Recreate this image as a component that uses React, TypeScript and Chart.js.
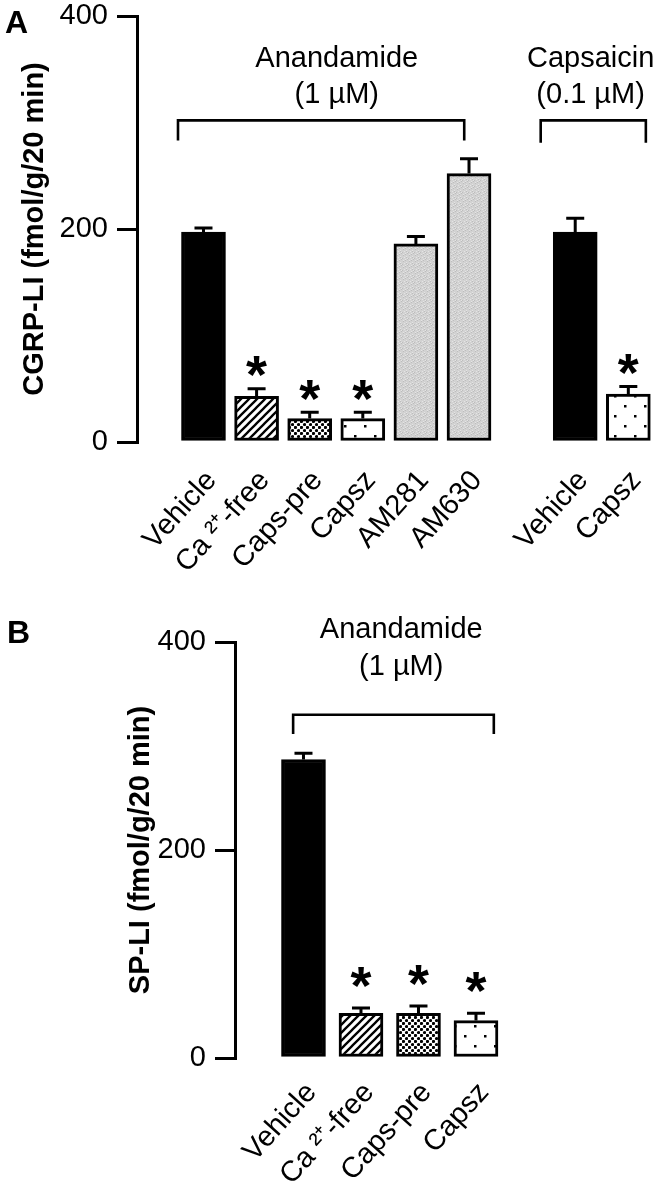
import React, { useEffect, useRef } from 'react';
import { Chart, registerables } from 'chart.js';

Chart.register(...registerables);

const FONT = "'Liberation Sans', Arial, Helvetica, sans-serif";

// ---------- Panel A data ----------
const labelsA = ['Vehicle', 'Ca ²⁺-free', 'Caps-pre', 'Capsz', 'AM281', 'AM630', 'Vehicle', 'Capsz'];
const slotsA = [0, 1, 2, 3, 4, 5, 7, 8];
const valuesA = [197, 43, 22, 22, 186, 252, 197, 45];
const errorsA = [4, 7, 6, 6, 7, 14, 13, 7];
const signifA = [false, true, true, true, false, false, false, true];
const fillsA = ['solid', 'hatch', 'dense', 'sparse', 'gray', 'gray', 'solid', 'sparse'];
const groupTextA = [['Anandamide', '(1 µM)'], ['Capsaicin', '(0.1 µM)']];
const yTitleA = 'CGRP-LI (fmol/g/20 min)';

// ---------- Panel B data ----------
const labelsB = ['Vehicle', 'Ca ²⁺-free', 'Caps-pre', 'Capsz'];
const slotsB = [0, 1, 2, 3];
const valuesB = [287, 43, 43, 36];
const errorsB = [6, 5, 7, 7];
const signifB = [false, true, true, true];
const fillsB = ['solid', 'hatch', 'dense', 'sparse'];
const groupTextB = [['Anandamide', '(1 µM)']];
const yTitleB = 'SP-LI (fmol/g/20 min)';

const yTicks = [0, 200, 400];

// ---------- layout (pixels / value-space positions) ----------
const layoutA = {
  letter: 'A', letterX: 5, letterY: 33,
  padLeft: 0, yWidth: 137, padTop: 16, padRight: 1, xHeight: 148,
  xMin: -1.252, xMax: 8.54, xPad: 22, labelOffset: 8, starGap: 22,
  spans: [
    { from: -0.48, to: 4.91, center: 2.51, hy: 302, ey: 283 },
    { from: 6.35, to: 8.33, center: 7.29, hy: 302, ey: 281 },
  ],
  textBaselines: [67, 103],
};
const layoutB = {
  letter: 'B', letterX: 7, letterY: 53,
  padLeft: 106, yWidth: 129, padTop: 52, padRight: 98, xHeight: 141,
  xMin: -1.191, xMax: 4.461, xPad: 18, labelOffset: 8, starGap: 31,
  spans: [{ from: -0.18, to: 3.31, center: 1.7, hy: 330, ey: 311.5 }],
  textBaselines: [48, 85],
};

function makePattern(kind: string): any {
  const c = document.createElement('canvas');
  const ctx = c.getContext('2d') as CanvasRenderingContext2D;
  if (kind === 'solid') return '#000000';
  if (kind === 'hatch') {
    const s = 8;
    c.width = s; c.height = s;
    ctx.fillStyle = '#fff'; ctx.fillRect(0, 0, s, s);
    ctx.strokeStyle = '#000'; ctx.lineWidth = 2.3;
    ctx.beginPath();
    ctx.moveTo(-2, s + 2); ctx.lineTo(s + 2, -2);
    ctx.moveTo(-2, 2); ctx.lineTo(2, -2);
    ctx.moveTo(s - 2, s + 2); ctx.lineTo(s + 2, s - 2);
    ctx.stroke();
  } else if (kind === 'dense') {
    const s = 6;
    c.width = s; c.height = s;
    ctx.fillStyle = '#fff'; ctx.fillRect(0, 0, s, s);
    ctx.fillStyle = '#000';
    ctx.beginPath(); ctx.arc(1.5, 1.5, 1.6, 0, Math.PI * 2); ctx.fill();
    ctx.beginPath(); ctx.arc(4.5, 4.5, 1.6, 0, Math.PI * 2); ctx.fill();
  } else if (kind === 'sparse') {
    const s = 20;
    c.width = s; c.height = s;
    ctx.fillStyle = '#fff'; ctx.fillRect(0, 0, s, s);
    ctx.fillStyle = '#000';
    ctx.fillRect(4, 5, 2.5, 2.5);
    ctx.fillRect(14, 15, 2.5, 2.5);
  } else {
    const s = 6;
    c.width = s; c.height = s;
    ctx.fillStyle = '#d2d2d2'; ctx.fillRect(0, 0, s, s);
    for (let i = 0; i < s; i++) {
      for (let j = 0; j < s; j++) {
        const k = (i * 5 + j * 3) % 7;
        if (k === 0) { ctx.fillStyle = '#bdbdbd'; ctx.fillRect(i, j, 1, 1); }
        if (k === 4) { ctx.fillStyle = '#e4e4e4'; ctx.fillRect(i, j, 1, 1); }
      }
    }
  }
  return ctx.createPattern(c, 'repeat');
}

function drawStar(ctx: CanvasRenderingContext2D, cx: number, cy: number) {
  ctx.font = `bold 100px ${FONT}`;
  const m0 = ctx.measureText('*');
  const w0 = m0.actualBoundingBoxRight + m0.actualBoundingBoxLeft;
  const fs = (100 * 21) / (w0 || 33);
  ctx.font = `bold ${fs}px ${FONT}`;
  ctx.textAlign = 'left';
  ctx.textBaseline = 'alphabetic';
  const m = ctx.measureText('*');
  const x0 = cx - (m.actualBoundingBoxRight - m.actualBoundingBoxLeft) / 2;
  const y0 = cy - (m.actualBoundingBoxDescent - m.actualBoundingBoxAscent) / 2;
  ctx.fillText('*', x0, y0);
}

function overlay(p: any) {
  return {
    id: 'overlay' + p.layout.letter,
    afterDatasetsDraw(chart: any) {
      const { ctx } = chart;
      const x = chart.scales.x;
      const y = chart.scales.y;
      ctx.save();
      ctx.strokeStyle = '#000';
      ctx.fillStyle = '#000';
      // error bars + significance
      ctx.lineWidth = 3;
      p.slots.forEach((s: number, i: number) => {
        const px = x.getPixelForValue(s);
        const yb = y.getPixelForValue(p.values[i]);
        const yt = y.getPixelForValue(p.values[i] + p.errors[i]);
        ctx.beginPath();
        ctx.moveTo(px, yb);
        ctx.lineTo(px, yt);
        ctx.moveTo(px - 9, yt);
        ctx.lineTo(px + 9, yt);
        ctx.stroke();
        if (p.signif[i]) drawStar(ctx, px, yt - p.layout.starGap);
      });
      // group brackets + texts
      ctx.lineWidth = 2.6;
      ctx.lineJoin = 'miter';
      p.layout.spans.forEach((sp: any, gi: number) => {
        const x1 = x.getPixelForValue(sp.from);
        const x2 = x.getPixelForValue(sp.to);
        const hy = y.getPixelForValue(sp.hy);
        const ey = y.getPixelForValue(sp.ey);
        ctx.beginPath();
        ctx.moveTo(x1, ey);
        ctx.lineTo(x1, hy);
        ctx.lineTo(x2, hy);
        ctx.lineTo(x2, ey);
        ctx.stroke();
        ctx.font = `29px ${FONT}`;
        ctx.textAlign = 'center';
        ctx.textBaseline = 'alphabetic';
        const cx = x.getPixelForValue(sp.center);
        p.groupText[gi].forEach((t: string, li: number) => {
          ctx.fillText(t, cx, p.layout.textBaselines[li]);
        });
      });
      // panel letter
      ctx.font = `bold 32px ${FONT}`;
      ctx.textAlign = 'left';
      ctx.textBaseline = 'alphabetic';
      ctx.fillText(p.layout.letter, p.layout.letterX, p.layout.letterY);
      ctx.restore();
    },
  };
}

function zeroPad(s: any) {
  s.paddingLeft = 0;
  s.paddingRight = 0;
  s.paddingTop = 0;
  s.paddingBottom = 0;
}

function buildConfig(p: any, patterns: Record<string, any>): any {
  const L = p.layout;
  return {
    type: 'bar',
    data: {
      datasets: [
        {
          data: p.slots.map((s: number, i: number) => ({ x: s, y: p.values[i] })),
          backgroundColor: p.fills.map((f: string) => patterns[f]),
          borderColor: '#000',
          borderWidth: 3,
          borderSkipped: false,
          barThickness: 44,
        },
      ],
    },
    options: {
      responsive: false,
      animation: false,
      events: [],
      layout: { padding: { left: L.padLeft, top: L.padTop, right: L.padRight, bottom: 0 } },
      plugins: { legend: { display: false }, tooltip: { enabled: false } },
      scales: {
        x: {
          type: 'linear',
          min: L.xMin,
          max: L.xMax,
          offset: false,
          grid: { display: false, drawTicks: false },
          border: { display: false },
          afterBuildTicks: (s: any) => {
            s.ticks = p.slots.map((v: number) => ({ value: v }));
          },
          afterFit: (s: any) => {
            s.height = L.xHeight;
            zeroPad(s);
          },
          ticks: {
            autoSkip: false,
            minRotation: 48,
            maxRotation: 48,
            labelOffset: L.labelOffset,
            padding: L.xPad,
            color: '#000',
            font: { family: FONT, size: 29 },
            callback: (v: number) => {
              const idx = p.slots.indexOf(v);
              return idx >= 0 ? p.labels[idx] : '';
            },
          },
        },
        y: {
          min: 0,
          max: 400,
          afterBuildTicks: (s: any) => {
            s.ticks = yTicks.map((v) => ({ value: v }));
          },
          afterFit: (s: any) => {
            s.width = L.yWidth;
            zeroPad(s);
          },
          grid: {
            display: true,
            drawOnChartArea: false,
            drawTicks: true,
            tickLength: 20,
            lineWidth: 3,
            color: '#000',
          },
          border: { display: true, width: 3, color: '#000' },
          ticks: {
            padding: 9,
            color: '#000',
            font: { family: FONT, size: 29, lineHeight: 1 },
          },
          title: {
            display: true,
            text: p.yTitle,
            color: '#000',
            font: { family: FONT, size: 29, weight: 'bold', lineHeight: 1.2 },
            padding: { top: 18, bottom: 0 },
          },
        },
      },
    },
    plugins: [overlay(p)],
  };
}

export default function App() {
  const refA = useRef<HTMLCanvasElement | null>(null);
  const refB = useRef<HTMLCanvasElement | null>(null);

  useEffect(() => {
    const patterns: Record<string, any> = {};
    ['solid', 'hatch', 'dense', 'sparse', 'gray'].forEach((k) => {
      patterns[k] = makePattern(k);
    });
    const panelA = {
      labels: labelsA, slots: slotsA, values: valuesA, errors: errorsA,
      signif: signifA, fills: fillsA, groupText: groupTextA, yTitle: yTitleA, layout: layoutA,
    };
    const panelB = {
      labels: labelsB, slots: slotsB, values: valuesB, errors: errorsB,
      signif: signifB, fills: fillsB, groupText: groupTextB, yTitle: yTitleB, layout: layoutB,
    };
    const chartA = new Chart(refA.current as HTMLCanvasElement, buildConfig(panelA, patterns));
    const chartB = new Chart(refB.current as HTMLCanvasElement, buildConfig(panelB, patterns));
    return () => {
      chartA.destroy();
      chartB.destroy();
    };
  }, []);

  return (
    <div style={{ position: 'absolute', left: 0, top: 0, width: 658, height: 1199, background: '#fff' }}>
      <canvas
        ref={refA}
        width={658}
        height={590}
        style={{ position: 'absolute', left: 0, top: 0, width: 658, height: 590 }}
      />
      <canvas
        ref={refB}
        width={658}
        height={609}
        style={{ position: 'absolute', left: 0, top: 590, width: 658, height: 609 }}
      />
    </div>
  );
}
